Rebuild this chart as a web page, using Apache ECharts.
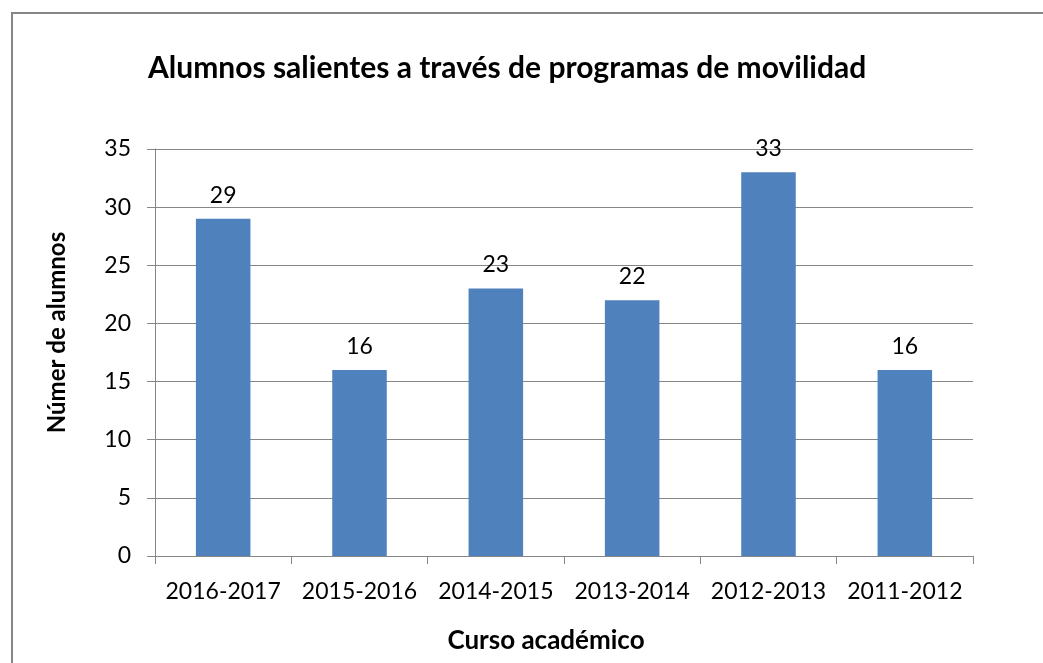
<!DOCTYPE html>
<html>
<head>
<meta charset="utf-8">
<script src="https://cdn.jsdelivr.net/npm/echarts@6/dist/echarts.min.js"></script>
<style>
  html, body { margin: 0; padding: 0; background: #fff; }
  #frame { position: absolute; left: 11px; top: 12px; width: 1040px; height: 660px;
           border-left: 2px solid #868686; border-top: 2px solid #868686; box-sizing: border-box; }
  #chart { position: absolute; left: 0; top: 0; width: 1043px; height: 663px; }
</style>
</head>
<body>
<div id="frame"></div>
<div id="chart"></div>
<script>
const titleText = 'Alumnos salientes a través de programas de movilidad';
const categories = ['2016-2017', '2015-2016', '2014-2015', '2013-2014', '2012-2013', '2011-2012'];
const alumnos = [29, 16, 23, 22, 33, 16];
const yName = 'Númer de alumnos';
const xName = 'Curso académico';

const font = 'Lato, "Open Sans", sans-serif';
const chart = echarts.init(document.getElementById('chart'), null, { renderer: 'canvas' });
chart.setOption({
  animation: false,
  title: {
    text: titleText,
    left: 143,
    top: 48,
    textStyle: { fontFamily: font, fontSize: 30, fontWeight: 'bold', color: '#000' }
  },
  grid: { left: 155, right: 70, top: 149, bottom: 107, containLabel: false },
  xAxis: {
    type: 'category',
    data: categories,
    name: xName,
    nameLocation: 'middle',
    nameGap: 72,
    // names sit slightly off the plot centre
    nameTextStyle: { fontFamily: font, fontSize: 26, fontWeight: 'bold', color: '#000', padding: [0, 36, 0, 0] },
    axisLine: { show: true, lineStyle: { color: '#868686', width: 1 } },
    axisTick: { show: true, length: 8, alignWithLabel: false, lineStyle: { color: '#868686' } },
    axisLabel: { fontFamily: font, fontSize: 23, color: '#000', margin: 24, interval: 0 }
  },
  yAxis: {
    type: 'value',
    min: 0,
    max: 35,
    interval: 5,
    name: yName,
    nameLocation: 'middle',
    nameGap: 86,
    nameRotate: 90,
    nameTextStyle: { fontFamily: font, fontSize: 24, fontWeight: 'bold', color: '#000', padding: [0, 0, 0, 40] },
    axisLine: { show: true, lineStyle: { color: '#868686', width: 1 } },
    axisTick: { show: true, length: 8, lineStyle: { color: '#868686' } },
    axisLabel: { fontFamily: font, fontSize: 23, color: '#000', margin: 24 },
    splitLine: { show: true, lineStyle: { color: '#868686', width: 1 } }
  },
  series: [{
    type: 'bar',
    data: alumnos,
    barWidth: '40%',
    itemStyle: { color: '#4F81BD' },
    label: {
      show: true,
      position: 'top',
      distance: 12,
      fontFamily: font,
      fontSize: 23,
      color: '#000'
    }
  }]
});
</script>
</body>
</html>
